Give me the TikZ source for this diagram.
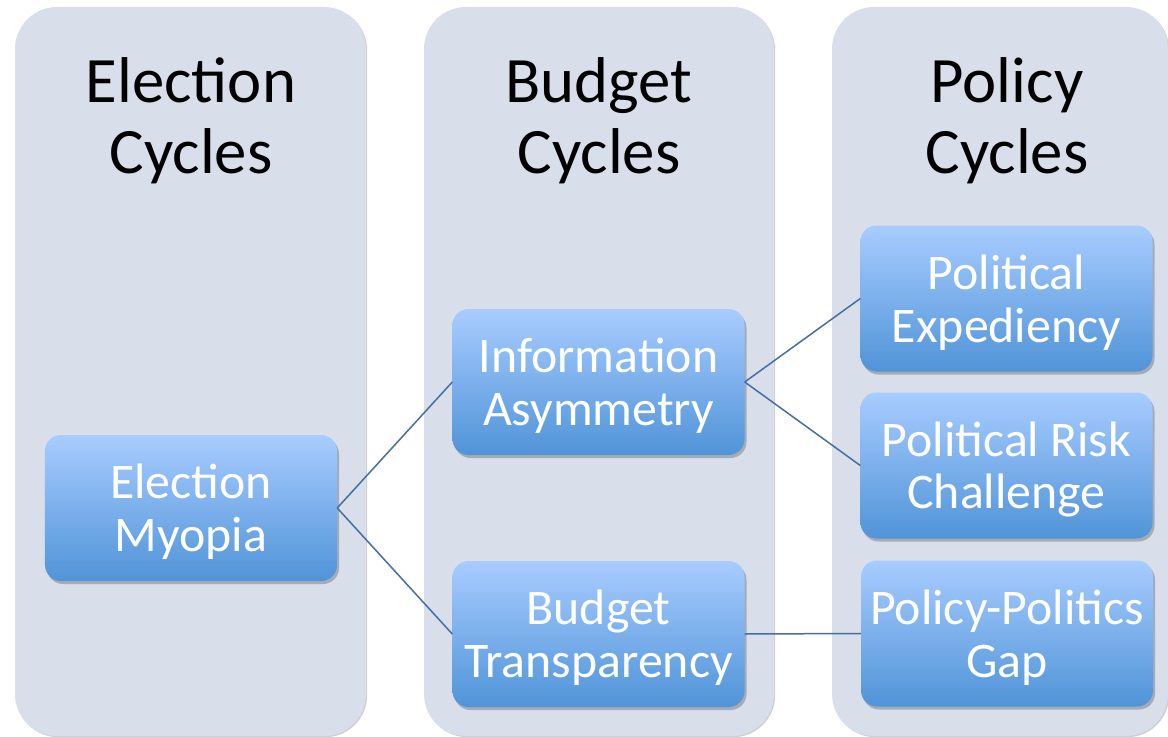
\documentclass[tikz,border=0pt]{standalone}
\usepackage{fontspec}
\setmainfont{Carlito}
\usetikzlibrary{shadows}
\definecolor{colfill}{RGB}{216,223,235}
\definecolor{ntop}{RGB}{168,204,255}
\definecolor{nbot}{RGB}{80,148,216}
\definecolor{linec}{RGB}{70,110,160}
\begin{document}
\begin{tikzpicture}[x=1bp,y=-1bp,
  colbox/.style={fill=colfill, rounded corners=42bp,
    drop shadow={shadow xshift=1.2bp, shadow yshift=-1.2bp, opacity=0.3, fill=black!60}},
  header/.style={align=center, text=black, font=\fontsize{65}{71}\selectfont},
  item/.style={rounded corners=16bp, minimum width=292bp, minimum height=146bp,
    top color=ntop, bottom color=nbot, inner sep=0pt,
    drop shadow={shadow xshift=2bp, shadow yshift=-3bp, opacity=0.35, fill=black!70}},
  itemtext/.style={align=center, text=white, inner sep=0pt, yshift=-4bp,
    font=\fontsize{50}{53}\selectfont},
  link/.style={draw=linec, line width=1.5bp}]
\path[fill=white, use as bounding box] (0,0) rectangle (1168,737);
% columns
\path[colbox] (15,7) rectangle (366,736);
\path[colbox] (424,7) rectangle (774,736);
\path[colbox] (832,7) rectangle (1168,736);
% headers
\node[header] (h1) at (191,121) {Election\\Cycles};
\node[header] (h2) at (599,121) {Budget\\Cycles};
\node[header] (h3) at (1007,121) {Policy\\Cycles};
% items
\node[item, label={[itemtext]center:{Election\\Myopia}}] (em) at (191,508) {};
\node[item, label={[itemtext]center:{Information\\Asymmetry}}] (ia) at (598.5,382) {};
\node[item, label={[itemtext]center:{Budget\\Transparency}}] (bt) at (598.5,634) {};
\node[item, label={[itemtext]center:{Political\\Expediency}}] (pe) at (1006.5,298.5) {};
\node[item, label={[itemtext]center:{Political Risk\\Challenge}}] (prc) at (1006.5,465.5) {};
\node[item, label={[itemtext]center:{Policy-Politics\\Gap}}] (ppg) at (1007,633.5) {};
% connectors
\draw[link] (em.east) -- (ia.west);
\draw[link] (em.east) -- (bt.west);
\draw[link] (ia.east) -- (pe.west);
\draw[link] (ia.east) -- (prc.west);
\draw[link] (bt.east) -- (ppg.west);
\end{tikzpicture}
\end{document}
